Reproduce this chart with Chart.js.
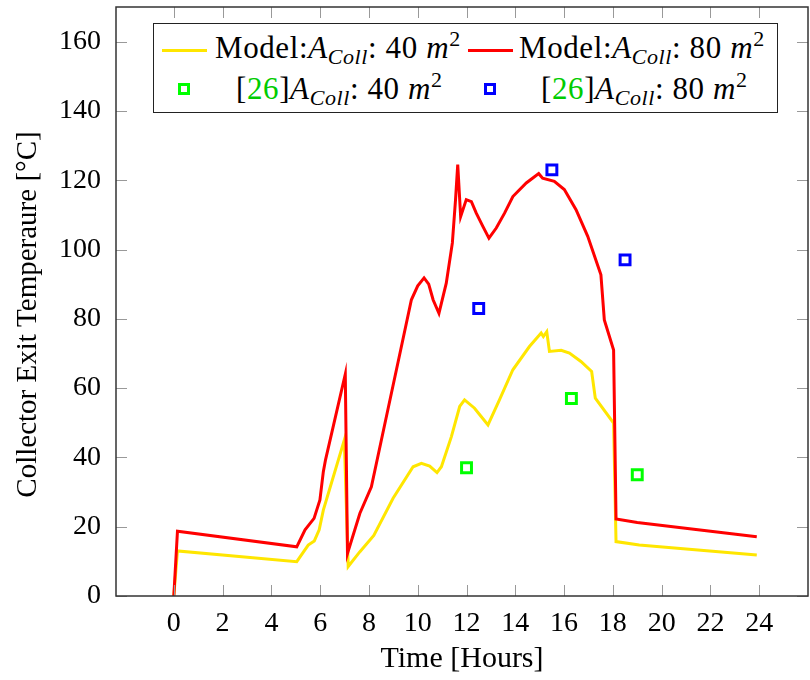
<!DOCTYPE html>
<html>
<head>
<meta charset="utf-8">
<title>Collector Exit Temperature</title>
<script src="https://cdn.jsdelivr.net/npm/chart.js@4.4.1/dist/chart.umd.min.js"></script>
<style>
  body { margin: 0; background: #fff; }
  #wrap { position: relative; width: 810px; height: 680px; }
  #legend {
    position: absolute; left: 153px; top: 23px; width: 625px; height: 90px;
    box-sizing: border-box; border: 1px solid #222; background: #fff;
    font-family: "Liberation Serif", "Times New Roman", "DejaVu Serif", serif; font-size: 31px; color: #000;
    letter-spacing: 0.6px;
  }
  #legend .item { position: absolute; line-height: 1; white-space: nowrap; }
  #legend .line { position: absolute; height: 3px; width: 45px; }
  #legend .mark { position: absolute; width: 12px; height: 12px; box-sizing: border-box; border: 3px solid; }
  #legend sub, #legend sup { font-size: 22px; line-height: 0; }
  #legend sub { vertical-align: -6px; }
  #legend sup { vertical-align: 12px; }
</style>
</head>
<body>
<div id="wrap">
  <canvas id="tempChart" width="810" height="680"></canvas>
  <div id="legend"></div>
</div>
<script>
// Model results, collector area 40 m2 (hours, degC)
const model40Hours = [0, 0.15, 5.04, 5.51, 5.76, 5.96, 6.13, 6.99, 7.15, 7.63, 8.2, 8.99, 9.81, 10.15, 10.49, 10.79, 10.97, 11.38, 11.72, 11.92,
  12.33, 12.6, 12.88, 13.35, 13.9, 14.58, 15.06, 15.15, 15.29, 15.4, 15.88, 16.22, 16.69, 17.13, 17.28, 18.03, 18.13, 19.08, 23.9];
const model40Temp = [0, 13.0, 9.9, 14.7, 15.9, 19.1, 24.8, 45, 8.5, 12.8, 17.5, 28.2, 37.3, 38.3, 37.5, 35.6, 37.3, 46, 54.7, 56.6,
  54.2, 51.8, 49.4, 56.6, 65.3, 72, 75.9, 74.9, 76.3, 70.6, 70.9, 70.1, 67.7, 64.8, 57.1, 49.9, 15.7, 14.7, 11.8];

// Model results, collector area 80 m2
const model80Hours = [0, 0.15, 5.04, 5.38, 5.75, 5.99, 6.13, 6.22, 7.03, 7.12, 7.63, 8.1, 8.6, 9.3, 9.74, 10.0, 10.26, 10.45, 10.63, 10.87,
  11.17, 11.42, 11.55, 11.64, 11.76, 11.99, 12.2, 12.4, 12.67, 12.92, 13.22, 13.56, 13.9, 14.45, 14.96, 15.12, 15.6, 16.01, 16.49, 16.97,
  17.51, 17.65, 18.03, 18.13, 19.0, 23.9];
const model80Temp = [0, 18.7, 14.2, 19.1, 22.4, 27.7, 35.9, 39.3, 64, 12.3, 23.9, 31.5, 48, 71, 85.5, 89.5, 91.8, 90, 85.5, 81.6,
  90.3, 101.9, 114.4, 124.5, 109.5, 114.4, 113.8, 110.5, 106.7, 103.3, 106.2, 110.5, 115.3, 119.2, 121.9, 120.6, 119.7, 117.3, 111.5, 103.8,
  92.7, 79.7, 71, 22.2, 21.2, 17.1];

// Measurements from reference [26]
const ref40Hours = [12.0, 16.3, 19.0];
const ref40Temp = [37, 57, 35];
const ref80Hours = [12.5, 15.5, 18.5];
const ref80Temp = [83, 123, 97];

// Axis ticks
const xTicks = [0, 2, 4, 6, 8, 10, 12, 14, 16, 18, 20, 22, 24];
const yTicks = [0, 20, 40, 60, 80, 100, 120, 140, 160];

const xTitle = 'Time [Hours]';
const yTitle = 'Collector Exit Temperaure [°C]';

const YELLOW = '#ffe600';
const RED = '#ff0000';
const GREEN = '#00ff00';
const BLUE = '#0000ff';
const FONT = "'Liberation Serif', 'Times New Roman', 'DejaVu Serif', serif";

function toPoints(xs, ys) {
  return xs.map((x, i) => ({ x: x, y: ys[i] }));
}

// Legend entries (HTML so the subscripts and superscripts render)
const legendItems = [
  { kind: 'line', color: YELLOW, html: 'Model:<i>A</i><sub><i>Coll</i></sub>: 40 <i>m</i><sup>2</sup>', sx: 8, sy: 25, tx: 61, ty: 8 },
  { kind: 'line', color: RED, html: 'Model:<i>A</i><sub><i>Coll</i></sub>: 80 <i>m</i><sup>2</sup>', sx: 314, sy: 25, tx: 365, ty: 8 },
  { kind: 'mark', color: GREEN, html: '[<span style="color:#00cc00">26</span>]<i>A</i><sub><i>Coll</i></sub>: 40 <i>m</i><sup>2</sup>', sx: 24, sy: 59, tx: 82, ty: 49 },
  { kind: 'mark', color: BLUE, html: '[<span style="color:#00cc00">26</span>]<i>A</i><sub><i>Coll</i></sub>: 80 <i>m</i><sup>2</sup>', sx: 330, sy: 59, tx: 387, ty: 49 }
];

const legendEl = document.getElementById('legend');
legendItems.forEach(function (it) {
  const s = document.createElement('div');
  s.className = it.kind;
  s.style.left = it.sx + 'px';
  s.style.top = it.sy + 'px';
  if (it.kind === 'line') s.style.background = it.color;
  else s.style.borderColor = it.color;
  legendEl.appendChild(s);
  const t = document.createElement('div');
  t.className = 'item';
  t.style.left = it.tx + 'px';
  t.style.top = it.ty + 'px';
  t.innerHTML = it.html;
  legendEl.appendChild(t);
});

// Box frame with inward ticks on all four sides, plus the rotated y title
const frameTicks = {
  id: 'frameTicks',
  afterDraw(chart) {
    const { ctx, chartArea: a, scales } = chart;
    const len = 11;
    ctx.save();
    ctx.strokeStyle = '#999';
    ctx.lineWidth = 1;
    ctx.beginPath();
    xTicks.forEach(function (v) {
      const px = Math.round(scales.x.getPixelForValue(v)) + 0.5;
      ctx.moveTo(px, a.bottom); ctx.lineTo(px, a.bottom - len);
      ctx.moveTo(px, a.top); ctx.lineTo(px, a.top + len);
    });
    yTicks.forEach(function (v) {
      const py = Math.round(scales.y.getPixelForValue(v)) + 0.5;
      ctx.moveTo(a.left, py); ctx.lineTo(a.left + len, py);
      ctx.moveTo(a.right, py); ctx.lineTo(a.right - len, py);
    });
    ctx.stroke();
    ctx.strokeStyle = '#333';
    ctx.lineWidth = 1.5;
    ctx.strokeRect(a.left, a.top, a.right - a.left, a.bottom - a.top);

    ctx.translate(28, (a.top + a.bottom) / 2 + 13);
    ctx.rotate(-Math.PI / 2);
    ctx.fillStyle = '#000';
    ctx.font = '29px ' + FONT;
    ctx.textAlign = 'center';
    ctx.textBaseline = 'middle';
    ctx.fillText(yTitle, 0, 0);
    ctx.restore();
  }
};

// no extra room for half-height edge labels
function noEdgePadding(scale) {
  scale.paddingTop = 0;
  scale.paddingBottom = 0;
  scale.paddingLeft = 0;
  scale.paddingRight = 0;
}

const ctx = document.getElementById('tempChart').getContext('2d');
new Chart(ctx, {
  type: 'scatter',
  data: {
    datasets: [
      {
        label: 'Model: A_Coll: 40 m2',
        data: toPoints(model40Hours, model40Temp),
        showLine: true,
        borderColor: YELLOW,
        borderWidth: 3,
        pointRadius: 0,
        tension: 0,
        order: 4
      },
      {
        label: 'Model: A_Coll: 80 m2',
        data: toPoints(model80Hours, model80Temp),
        showLine: true,
        borderColor: RED,
        borderWidth: 3,
        pointRadius: 0,
        tension: 0,
        order: 3
      },
      {
        label: '[26] A_Coll: 40 m2',
        data: toPoints(ref40Hours, ref40Temp),
        pointStyle: 'rect',
        pointRadius: 7,
        pointBorderWidth: 3,
        pointBorderColor: GREEN,
        pointBackgroundColor: '#fff',
        order: 2
      },
      {
        label: '[26] A_Coll: 80 m2',
        data: toPoints(ref80Hours, ref80Temp),
        pointStyle: 'rect',
        pointRadius: 7,
        pointBorderWidth: 3,
        pointBorderColor: BLUE,
        pointBackgroundColor: '#fff',
        order: 1
      }
    ]
  },
  options: {
    responsive: false,
    animation: false,
    layout: { autoPadding: false, padding: { top: 7, right: 2, left: 0, bottom: 0 } },
    plugins: {
      legend: { display: false },
      tooltip: { enabled: false }
    },
    scales: {
      x: {
        type: 'linear',
        min: -2.37,
        max: 26.0,
        afterBuildTicks: function (scale) { scale.ticks = xTicks.map(v => ({ value: v })); },
        afterFit: function (scale) { scale.height = 84; noEdgePadding(scale); },
        grid: { display: false },
        border: { display: false },
        ticks: { color: '#000', padding: 3, font: { family: FONT, size: 28 }, maxRotation: 0 },
        title: { display: true, text: xTitle, color: '#000', padding: { top: 0, bottom: 3 }, font: { family: FONT, size: 30 } }
      },
      y: {
        type: 'linear',
        min: 0,
        max: 170,
        afterBuildTicks: function (scale) { scale.ticks = yTicks.map(v => ({ value: v })); },
        afterFit: function (scale) { scale.width = 116; noEdgePadding(scale); },
        grid: { display: false },
        border: { display: false },
        ticks: { color: '#000', padding: 7, font: { family: FONT, size: 28 } },
        title: { display: false }
      }
    }
  },
  plugins: [frameTicks]
});
</script>
</body>
</html>
